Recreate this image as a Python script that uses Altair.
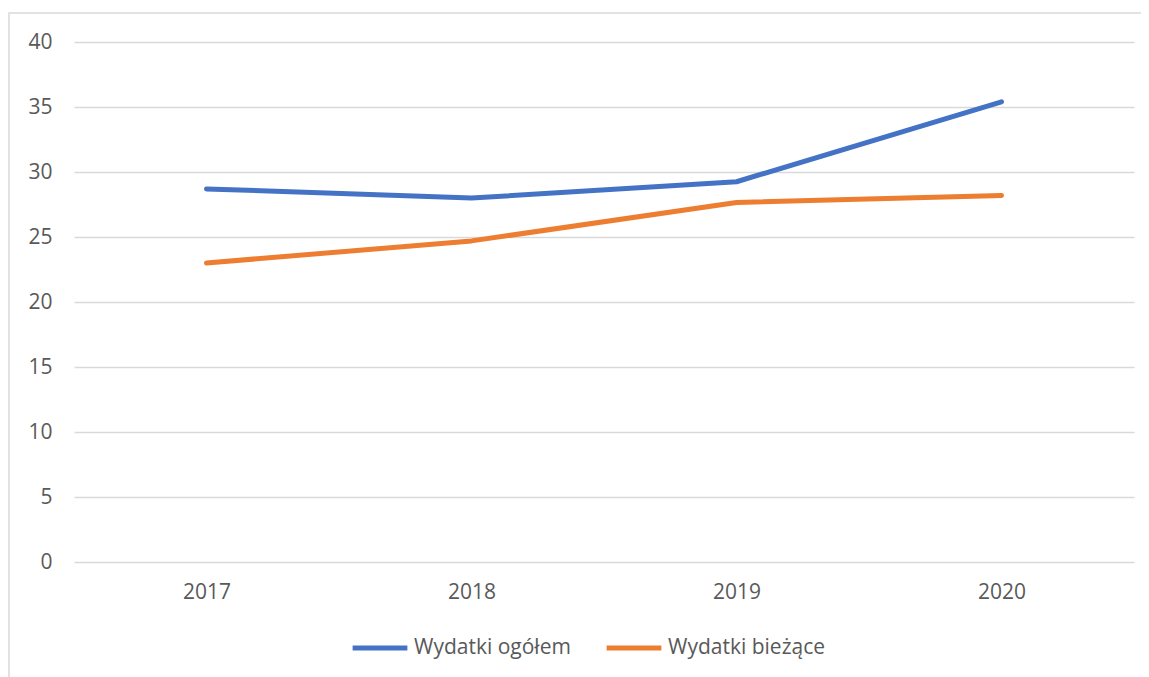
import altair as alt
import pandas as pd

years = ["2017", "2018", "2019", "2020"]
ogolem = [28.7, 28.0, 29.25, 35.4]
biezace = [23.0, 24.7, 27.65, 28.2]
series_names = ["Wydatki ogółem", "Wydatki bieżące"]
colors = ["#4472C4", "#ED7D31"]

rows = []
for y, v in zip(years, ogolem):
    rows.append({"rok": y, "wartosc": v, "seria": series_names[0]})
for y, v in zip(years, biezace):
    rows.append({"rok": y, "wartosc": v, "seria": series_names[1]})
df = pd.DataFrame(rows)

FONT = "Open Sans"
FS = 21
W, H = 1060, 520

frame = alt.Chart(pd.DataFrame({"a": [0]})).mark_rect(
    fill=None, stroke="#d9d9d9", strokeWidth=1.5
).encode(
    x=alt.value(-65), x2=alt.value(1120), y=alt.value(-29), y2=alt.value(720)
)

lines = alt.Chart(df).mark_line(strokeWidth=5, strokeCap="round", strokeJoin="round").encode(
    x=alt.X("rok:N", sort=years, title=None,
            scale=alt.Scale(type="point", padding=0.5),
            axis=alt.Axis(labelAngle=0, domain=False, ticks=False, grid=False,
                          labelPadding=19, labelFontSize=FS, labelColor="#595959",
                          labelFont=FONT)),
    y=alt.Y("wartosc:Q", title=None,
            scale=alt.Scale(domain=[0, 40], nice=False),
            axis=alt.Axis(values=[0, 5, 10, 15, 20, 25, 30, 35, 40], domain=False, ticks=False,
                          gridColor="#d9d9d9", gridWidth=1.5, labelPadding=22,
                          labelFontSize=FS, labelColor="#595959", labelFont=FONT)),
    color=alt.Color("seria:N", sort=series_names,
                    scale=alt.Scale(domain=series_names, range=colors),
                    legend=alt.Legend(title=None, orient="none", direction="horizontal",
                                      legendX=276, legendY=576,
                                      symbolType="stroke", symbolSize=3000, symbolStrokeWidth=5,
                                      labelFontSize=FS, labelColor="#595959", labelFont=FONT,
                                      labelOffset=4, columnPadding=25)),
)

chart = alt.layer(frame, lines).properties(
    width=W, height=H,
    autosize=alt.AutoSizeParams(type="none"),
    padding={"left": 66, "top": 34, "right": 7, "bottom": 120},
).configure_view(stroke=None)

chart.save("out.html", embed_options={"renderer": "svg", "actions": False})
